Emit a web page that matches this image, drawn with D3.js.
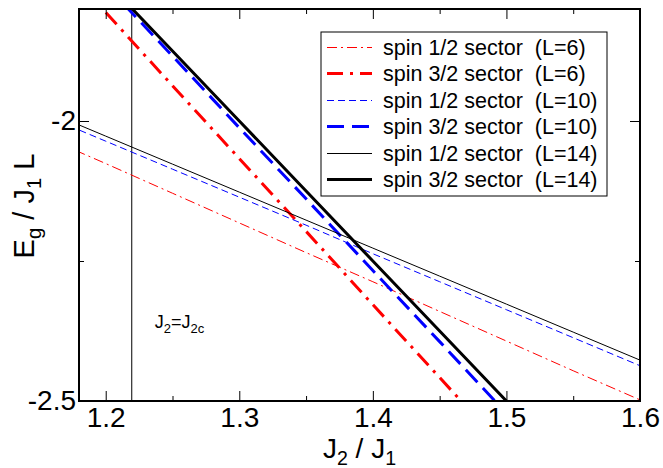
<!DOCTYPE html>
<html><head><meta charset="utf-8">
<script src="https://cdn.jsdelivr.net/npm/d3@7"></script>
<style>
body{margin:0;background:#fff}
svg{display:block;font-family:"Liberation Sans",Arial,sans-serif}
</style>
</head><body>
<svg id="c" width="663" height="468"></svg>
<script>
// ---- data ----
const j2 = [1.15, 1.2, 1.25, 1.3, 1.35, 1.4, 1.45, 1.5, 1.55, 1.6, 1.65];
const spin12_L6  = [-2.024, -2.076, -2.129, -2.182, -2.235, -2.287, -2.340, -2.393, -2.446, -2.498, -2.551];
const spin32_L6  = [-1.676, -1.806, -1.937, -2.067, -2.197, -2.328, -2.458, -2.589, -2.719, -2.850, -2.980];
const spin12_L10 = [-1.986, -2.036, -2.086, -2.136, -2.186, -2.237, -2.287, -2.337, -2.387, -2.437, -2.487];
const spin32_L10 = [-1.629, -1.757, -1.884, -2.012, -2.139, -2.267, -2.394, -2.522, -2.649, -2.777, -2.904];
const spin12_L14 = [-1.977, -2.027, -2.077, -2.127, -2.177, -2.227, -2.277, -2.327, -2.377, -2.427, -2.477];
const spin32_L14 = [-1.625, -1.750, -1.875, -2.000, -2.125, -2.250, -2.375, -2.500, -2.625, -2.750, -2.875];
const j2c = 1.2195;
const xMajor = [1.2, 1.3, 1.4, 1.5, 1.6];
const xMinor = [1.25, 1.35, 1.45, 1.55];
const yMajor = [-2, -2.5];
const yMinor = [-2.25];
const xTickLabels = ["1.2", "1.3", "1.4", "1.5", "1.6"];
const yTickLabels = ["-2", "-2.5"];
const legendLabels = [
  "spin 1/2 sector  (L=6)",
  "spin 3/2 sector  (L=6)",
  "spin 1/2 sector  (L=10)",
  "spin 3/2 sector  (L=10)",
  "spin 1/2 sector  (L=14)",
  "spin 3/2 sector  (L=14)"
];

// ---- drawing ----
const W = 663, H = 468;
const m = {left: 79, right: 23, top: 9, bottom: 67};
const svg = d3.select("#c");
const x = d3.scaleLinear().domain([1.18, 1.6]).range([m.left, W - m.right]);
const y = d3.scaleLinear().domain([-2.5, -1.8]).range([H - m.bottom, m.top]);

const series = [
  {vals: spin12_L6,  color: "#ff0000", width: 1, dash: "10,4,2,4"},
  {vals: spin32_L6,  color: "#ff0000", width: 3, dash: "16,7,3,7"},
  {vals: spin12_L10, color: "#0000ff", width: 1, dash: "7,4"},
  {vals: spin32_L10, color: "#0000ff", width: 3, dash: "17,8"},
  {vals: spin12_L14, color: "#000000", width: 1, dash: null},
  {vals: spin32_L14, color: "#000000", width: 3, dash: null}
];

svg.append("defs").append("clipPath").attr("id", "clip")
  .append("rect").attr("x", m.left).attr("y", m.top)
  .attr("width", W - m.left - m.right).attr("height", H - m.top - m.bottom);

const plot = svg.append("g").attr("clip-path", "url(#clip)");
const line = d3.line().x((d, i) => x(j2[i])).y(d => y(d));

// vertical line J2 = J2c
plot.append("line").attr("x1", x(j2c)).attr("x2", x(j2c))
  .attr("y1", y(-2.5)).attr("y2", y(-1.8))
  .attr("stroke", "#000").attr("stroke-width", 1);

series.forEach(s => {
  plot.append("path").datum(s.vals).attr("d", line)
    .attr("fill", "none").attr("stroke", s.color)
    .attr("stroke-width", s.width)
    .attr("stroke-dasharray", s.dash);
});

// axes
const fs = 28;
const clean = g => { g.select(".domain").remove(); };
svg.append("g").attr("transform", `translate(0,${H - m.bottom})`)
  .call(d3.axisBottom(x).tickValues(xMajor).tickSize(-10).tickPadding(6).tickFormat((d, i) => xTickLabels[i]))
  .call(clean).call(g => g.selectAll("text").attr("font-size", fs).attr("font-family", null).attr("fill", "#000"))
  .call(g => g.selectAll("line").attr("stroke-width", 1));
svg.append("g").attr("transform", `translate(0,${H - m.bottom})`)
  .call(d3.axisBottom(x).tickValues(xMinor).tickSize(-5).tickFormat("")).call(clean);
svg.append("g").attr("transform", `translate(0,${m.top})`)
  .call(d3.axisTop(x).tickValues(xMajor).tickSize(-10).tickFormat("")).call(clean);
svg.append("g").attr("transform", `translate(0,${m.top})`)
  .call(d3.axisTop(x).tickValues(xMinor).tickSize(-5).tickFormat("")).call(clean);

svg.append("g").attr("transform", `translate(${m.left},0)`)
  .call(d3.axisLeft(y).tickValues(yMajor).tickSize(-10).tickPadding(3).tickFormat((d, i) => yTickLabels[i]))
  .call(clean).call(g => g.selectAll("text").attr("font-size", fs).attr("font-family", null).attr("fill", "#000"));
svg.append("g").attr("transform", `translate(${m.left},0)`)
  .call(d3.axisLeft(y).tickValues(yMinor).tickSize(-5).tickFormat("")).call(clean);
svg.append("g").attr("transform", `translate(${W - m.right},0)`)
  .call(d3.axisRight(y).tickValues(yMajor).tickSize(-10).tickFormat("")).call(clean);
svg.append("g").attr("transform", `translate(${W - m.right},0)`)
  .call(d3.axisRight(y).tickValues(yMinor).tickSize(-5).tickFormat("")).call(clean);

// frame
svg.append("rect").attr("x", m.left).attr("y", m.top)
  .attr("width", W - m.left - m.right).attr("height", H - m.top - m.bottom)
  .attr("fill", "none").attr("stroke", "#000").attr("stroke-width", 2);

// axis titles
const xt = svg.append("text").attr("x", (m.left + W - m.right) / 2).attr("y", 458)
  .attr("text-anchor", "middle").attr("font-size", fs);
xt.append("tspan").text("J");
xt.append("tspan").attr("font-size", fs * 0.7).attr("dy", 7).text("2");
xt.append("tspan").attr("dy", -7).text(" / J");
xt.append("tspan").attr("font-size", fs * 0.7).attr("dy", 7).text("1");

const yt = svg.append("text").attr("transform", `translate(34,206) rotate(-90)`)
  .attr("text-anchor", "middle").attr("font-size", 29);
yt.append("tspan").text("E");
yt.append("tspan").attr("font-size", 29 * 0.7).attr("dy", 7).text("g");
yt.append("tspan").attr("dy", -7).text(" / J");
yt.append("tspan").attr("font-size", 29 * 0.7).attr("dy", 7).text("1");
yt.append("tspan").attr("dy", -7).text(" L");

// J2 = J2c annotation
const ann = svg.append("text").attr("x", x(j2c) + 23).attr("y", 328).attr("font-size", 18);
ann.append("tspan").text("J");
ann.append("tspan").attr("font-size", 13).attr("dy", 5).text("2");
ann.append("tspan").attr("dy", -5).text("=J");
ann.append("tspan").attr("font-size", 13).attr("dy", 5).text("2c");

// legend
const lg = svg.append("g");
lg.append("rect").attr("x", 321).attr("y", 32).attr("width", 286).attr("height", 164)
  .attr("fill", "#fff").attr("stroke", "#000").attr("stroke-width", 1);
series.forEach((s, i) => {
  const yy = Math.round(47 + i * 26.4) + 0.5;
  lg.append("line").attr("x1", 327).attr("x2", 372).attr("y1", yy).attr("y2", yy)
    .attr("stroke", s.color).attr("stroke-width", s.width).attr("stroke-dasharray", s.dash);
  lg.append("text").attr("x", 383).attr("y", yy).attr("dy", "0.36em")
    .attr("font-size", 21.5).style("white-space", "pre").text(legendLabels[i]);
});
</script>
</body></html>
